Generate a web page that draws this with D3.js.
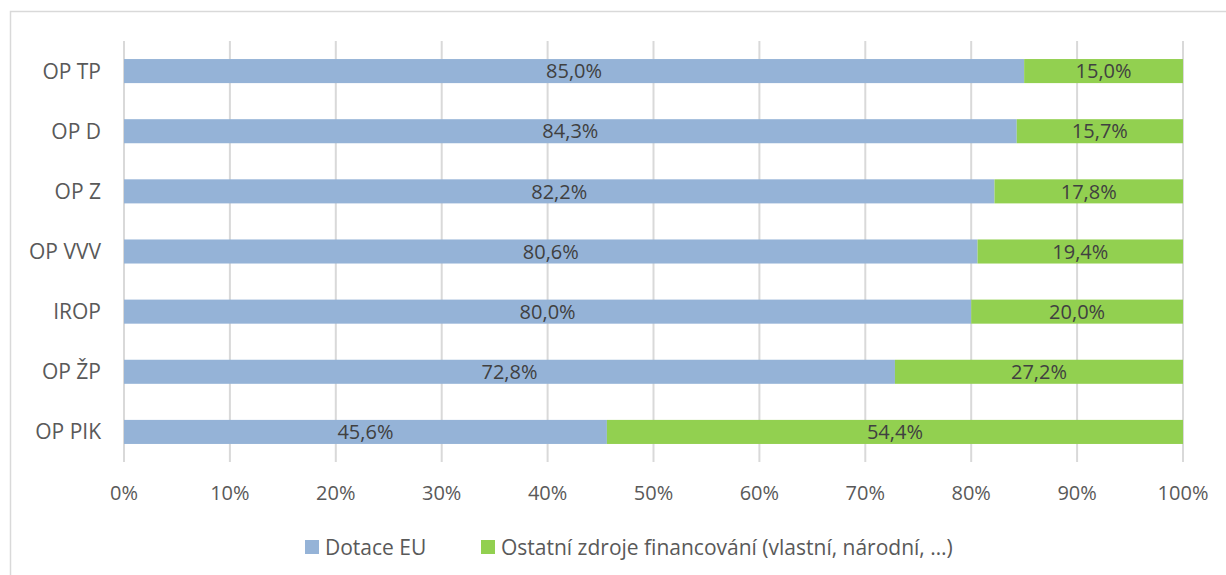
<!DOCTYPE html>
<html>
<head>
  <meta charset="utf-8">
  <title>Dotace EU</title>
  <script src="https://cdn.jsdelivr.net/npm/d3@7/dist/d3.min.js"></script>
  <style>
    body { margin: 0; background: #fff; }
    text { font-family: "Open Sans", sans-serif; }
  </style>
</head>
<body>
  <svg width="1226" height="575" id="mainsvg"></svg>
  <script>
    // data
    const categories = ['OP TP', 'OP D', 'OP Z', 'OP VVV', 'IROP', 'OP ŽP', 'OP PIK'];
    const dotaceEU = [85.0, 84.3, 82.2, 80.6, 80.0, 72.8, 45.6];
    const ostatni = [15.0, 15.7, 17.8, 19.4, 20.0, 27.2, 54.4];
    const seriesNames = ['Dotace EU', 'Ostatní zdroje financování (vlastní, národní, …)'];
    const colors = ['#95b3d7', '#92d050'];
    const ticks = d3.range(0, 101, 10);

    const svg = d3.select('#mainsvg');
    const width = +svg.attr('width');
    const height = +svg.attr('height');
    const margin = { top: 41, right: 43, bottom: 113, left: 124 };
    const innerWidth = width - margin.left - margin.right;
    const innerHeight = height - margin.top - margin.bottom;

    // chart frame (cut off on the right and bottom like the original)
    svg.append('path')
      .attr('d', `M10.5,${height} V11.5 H${width}`)
      .attr('fill', 'none').attr('stroke', '#d9d9d9').attr('stroke-width', 1.5);

    const g = svg.append('g')
      .attr('transform', `translate(${margin.left}, ${margin.top})`);

    const x = d3.scaleLinear().domain([0, 100]).range([0, innerWidth]);
    const y = d3.scaleBand().domain(categories).range([0, innerHeight]).paddingInner(0.6).paddingOuter(0.3);

    // gridlines
    g.selectAll('line.grid').data(ticks).join('line')
      .attr('class', 'grid')
      .attr('x1', d => x(d)).attr('x2', d => x(d))
      .attr('y1', 0).attr('y2', innerHeight)
      .attr('stroke', '#d9d9d9').attr('stroke-width', 2);

    const rows = categories.map((c, i) => ({ cat: c, a: dotaceEU[i], b: ostatni[i] }));
    const fmt = v => v.toFixed(1).replace('.', ',') + '%';

    // blue segments
    g.selectAll('rect.eu').data(rows).join('rect')
      .attr('class', 'eu')
      .attr('x', x(0))
      .attr('y', d => y(d.cat))
      .attr('width', d => x(d.a) - x(0))
      .attr('height', y.bandwidth())
      .attr('fill', colors[0]);

    // green segments
    g.selectAll('rect.ost').data(rows).join('rect')
      .attr('class', 'ost')
      .attr('x', d => x(d.a))
      .attr('y', d => y(d.cat))
      .attr('width', d => x(d.a + d.b) - x(d.a))
      .attr('height', y.bandwidth())
      .attr('fill', colors[1]);

    // value labels
    g.selectAll('text.lab-a').data(rows).join('text')
      .attr('class', 'lab-a')
      .attr('x', d => x(d.a / 2))
      .attr('y', d => y(d.cat) + y.bandwidth() / 2)
      .attr('dy', '0.36em')
      .attr('text-anchor', 'middle')
      .attr('font-size', 20)
      .attr('fill', '#404040')
      .text(d => fmt(d.a));

    g.selectAll('text.lab-b').data(rows).join('text')
      .attr('class', 'lab-b')
      .attr('x', d => x(d.a + d.b / 2))
      .attr('y', d => y(d.cat) + y.bandwidth() / 2)
      .attr('dy', '0.36em')
      .attr('text-anchor', 'middle')
      .attr('font-size', 20)
      .attr('fill', '#404040')
      .text(d => fmt(d.b));

    // category labels
    g.selectAll('text.cat').data(categories).join('text')
      .attr('class', 'cat')
      .attr('x', -23)
      .attr('y', d => y(d) + y.bandwidth() / 2)
      .attr('dy', '0.36em')
      .attr('text-anchor', 'end')
      .attr('font-size', 21)
      .attr('fill', '#595959')
      .text(d => d);

    // x tick labels
    g.selectAll('text.tick').data(ticks).join('text')
      .attr('class', 'tick')
      .attr('x', d => x(d))
      .attr('y', innerHeight + 31)
      .attr('dy', '0.36em')
      .attr('text-anchor', 'middle')
      .attr('font-size', 20)
      .attr('fill', '#595959')
      .text(d => d + '%');

    // legend
    const legendX = [305, 481];
    const legend = svg.append('g');
    seriesNames.forEach((name, i) => {
      legend.append('rect')
        .attr('x', legendX[i]).attr('y', 540)
        .attr('width', 14).attr('height', 14)
        .attr('fill', colors[i]);
      legend.append('text')
        .attr('x', legendX[i] + 20).attr('y', 547)
        .attr('dy', '0.36em')
        .attr('font-size', 21)
        .attr('fill', '#595959')
        .text(name);
    });
  </script>
</body>
</html>
